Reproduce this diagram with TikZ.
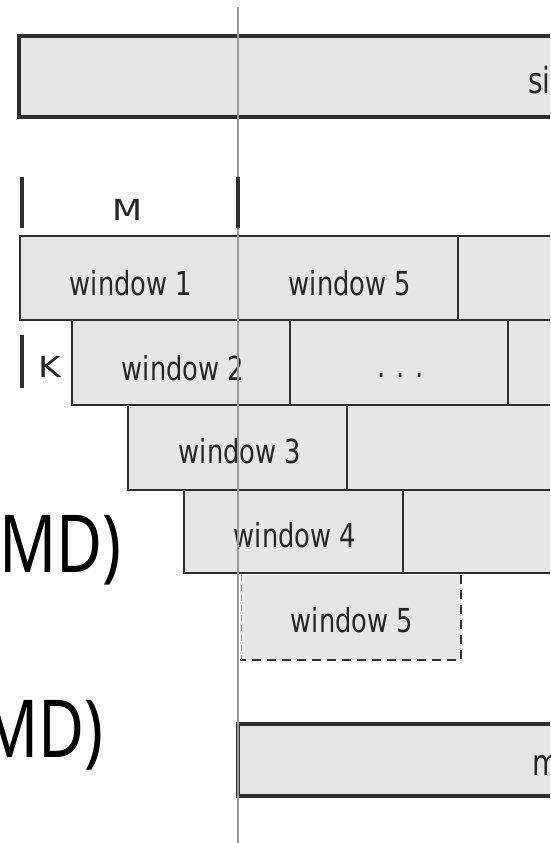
\documentclass[tikz,border=0pt]{standalone}
\usepackage{fontspec}
\newfontfamily\wfont[FakeStretch=0.78]{DejaVu Sans}
\newfontfamily\lfont[FakeStretch=1.2]{DejaVu Sans}
\newfontfamily\bigfont[FakeStretch=0.79]{Noto Sans}
\definecolor{boxfill}{HTML}{E6E6E6}
\definecolor{boxline}{HTML}{2E2E2E}
\definecolor{guide}{HTML}{9A9A9A}
\tikzset{
  cell/.style={draw=boxline, fill=boxfill, line width=2.7pt},
  bar/.style={draw=boxline, fill=boxfill, line width=3.3pt},
  ghost/.style={draw=boxline, line width=2.7pt, dash pattern=on 9pt off 6pt},
  wlabel/.style={anchor=base, inner sep=0pt, text=black!85, font=\wfont\fontsize{33}{33}\selectfont},
  blabel/.style={anchor=base west, inner sep=0pt, text=black!85, font=\wfont\fontsize{36}{36}\selectfont},
  dimlabel/.style={anchor=base, inner sep=0pt, text=black!85, font=\lfont\fontsize{29}{29}\selectfont},
  biglabel/.style={anchor=base east, inner sep=0pt, font=\bigfont\fontsize{80}{80}\selectfont},
  tick/.style={draw=boxline, line width=3.3pt},
  guideline/.style={draw=guide, line width=1.5pt}
}
\begin{document}
\begin{tikzpicture}[x=1pt,y=-1pt]
\useasboundingbox (0,0) rectangle (550,843);
\clip (0,0) rectangle (550,843);
\fill[white] (0,0) rectangle (550,843);

% top bar
\draw[bar] (19,36) rectangle (570,117);
\node[blabel] (topt) at (528,93) {si};

% row 1
\draw[cell] (20,236) rectangle (238,320);
\draw[cell] (238,236) rectangle (458,320);
\draw[cell] (458,236) rectangle (570,320);
% row 2
\draw[cell] (72,320) rectangle (290,405);
\draw[cell] (290,320) rectangle (508,405);
\draw[cell] (508,320) rectangle (570,405);
% row 3
\draw[cell] (128,405) rectangle (347,490);
\draw[cell] (347,405) rectangle (570,490);
% row 4
\draw[cell] (184,490) rectangle (403,573);
\draw[cell] (403,490) rectangle (570,573);
% row 5 (dashed)
\fill[boxfill] (240,575) rectangle (461,660);
\draw[ghost] (403,573) -- (461,573) -- (461,660) -- (240,660);
\draw[guide, line width=1pt, dash pattern=on 6pt off 4pt] (241,575) -- (241,660);

% bottom bar
\draw[bar] (238,724) rectangle (570,796);
\node[blabel] (bott) at (532,775) {m};

% labels in cells
\node[wlabel] (w1) at (131,295) {window 1};
\node[wlabel] (w5a) at (350,295) {window 5};
\node[wlabel] (w2) at (183,380) {window 2};
\node[wlabel] (dots) at (401,377) {. . .};
\node[wlabel] (w3) at (240,463) {window 3};
\node[wlabel] (w4) at (295,547) {window 4};
\node[wlabel] (w5b) at (352,632) {window 5};

% guide line
\draw[guideline] (238,7) -- (238,843);

% dimension ticks
\draw[tick] (22,177) -- (22,228);
\draw[tick] (238,177) -- (238,228);
\node[dimlabel] (mlab) at (128,220) {M};
\draw[tick, line width=4.8pt] (22,335) -- (22,388);
\node[dimlabel] (klab) at (50,377) {K};

% big side texts
\node[biglabel] (simd) at (122,572) {MD)};
\node[biglabel] (mimd) at (104,757) {MD)};
\end{tikzpicture}
\end{document}
